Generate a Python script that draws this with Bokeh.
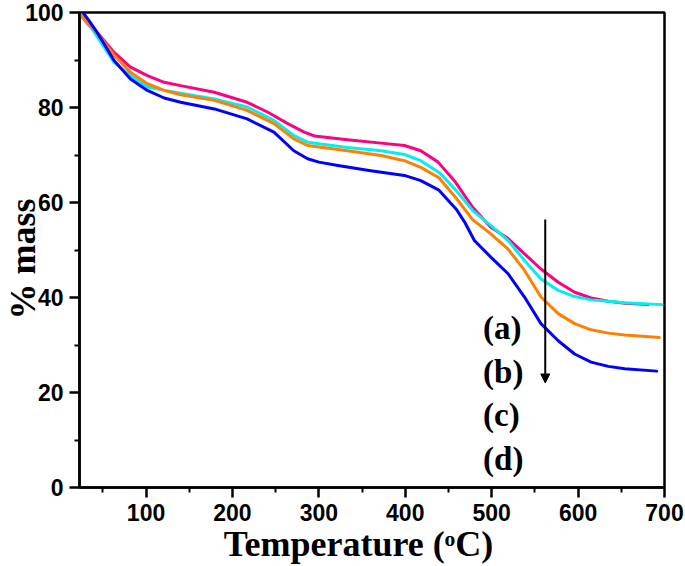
from bokeh.plotting import figure
from bokeh.models import Range1d, Arrow, NormalHead, FixedTicker
from bokeh.embed import file_html
from bokeh.resources import INLINE
from bokeh.core.properties import value

# ---------------- data ----------------
temp_a = [24, 34, 45, 63, 82, 101.5, 121, 140, 179, 217, 241, 264, 283, 295, 333, 372, 399,
          418, 438, 458, 478, 499, 519, 538, 557, 577, 596, 615, 635, 654, 681]
mass_a = [99.5, 97.3, 95.5, 91.6, 88.5, 86.7, 85.3, 84.6, 83.2, 81.1, 79.0, 76.6, 74.8, 74.0,
          73.2, 72.5, 72.0, 70.9, 68.5, 64.3, 59.0, 54.8, 52.4, 49.2, 46.0, 43.2, 41.1, 39.9,
          39.2, 38.8, 38.5]

temp_b = [24, 34, 45, 63, 82, 101.5, 121, 140, 179, 217, 248, 271, 287, 333, 372, 399,
          418, 440, 459, 478, 499, 519, 538, 557, 577, 596, 615, 635, 654, 697]
mass_b = [99.5, 97.5, 94.5, 89.5, 86.7, 84.3, 83.6, 83.0, 81.8, 80.1, 77.3, 74.1, 72.7, 71.6,
          70.9, 70.1, 68.8, 66.2, 62.5, 58.3, 55.2, 52.0, 47.8, 43.9, 41.5, 40.2, 39.5, 39.2,
          38.9, 38.5]

temp_c = [24, 34, 45, 63, 82, 101.5, 121, 140, 179, 217, 248, 271, 287, 333, 372, 399,
          418, 439, 459, 478, 499, 519, 538, 557, 577, 596, 615, 635, 654, 694]
mass_c = [99.5, 97.6, 95.3, 91.0, 87.4, 85.0, 83.6, 82.7, 81.5, 79.4, 76.6, 73.4, 72.0, 70.9,
          69.9, 68.8, 67.4, 65.2, 60.9, 56.4, 53.4, 50.2, 45.7, 40.1, 36.6, 34.5, 33.2, 32.5,
          32.1, 31.6]

temp_d = [27, 34, 42, 63, 82, 101.5, 121, 140, 179, 217, 248, 271, 287, 300, 322, 360, 399,
          418, 439, 459, 469, 480, 499, 519, 538, 557, 577, 596, 615, 635, 654, 691]
mass_d = [100.0, 98.3, 96.2, 89.9, 86.0, 83.6, 82.0, 81.1, 79.7, 77.6, 74.8, 70.9, 69.2, 68.5,
          67.8, 66.7, 65.7, 64.6, 62.6, 58.6, 55.8, 52.0, 48.5, 45.0, 40.1, 34.5, 30.9, 28.1,
          26.4, 25.5, 25.0, 24.5]

series_colors = ["#FF0080", "#00F0F0", "#FF8000", "#0000FF"]
series_labels = ["(a)", "(b)", "(c)", "(d)"]

x_ticks = [100, 200, 300, 400, 500, 600, 700]
y_ticks = [0, 20, 40, 60, 80, 100]
# non-breaking spaces only nudge the centred titles to where the reference has them
x_title = "Temperature (\u1d52C)\u00a0\u00a0\u00a0"
y_title = "% mass\u00a0\u00a0"

# ---------------- figure ----------------
p = figure(width=685, height=566, output_backend="svg", toolbar_location=None,
           x_range=Range1d(23, 700), y_range=Range1d(0, 100),
           min_border_left=79, min_border_right=21, min_border_top=12, min_border_bottom=79)
p.grid.visible = False
p.background_fill_color = "white"
p.border_fill_color = "white"
p.outline_line_color = "black"
p.outline_line_width = 2.5
p.outline_line_alpha = 1.0

p.xaxis.ticker = FixedTicker(ticks=x_ticks, minor_ticks=[t - 50 for t in x_ticks])
p.yaxis.ticker = FixedTicker(ticks=y_ticks, minor_ticks=[t + 10 for t in y_ticks[:-1]])
for ax in (p.xaxis, p.yaxis):
    ax.axis_line_width = 2.5
    ax.axis_line_color = "black"
    ax.major_tick_line_width = 2.5
    ax.minor_tick_line_width = 2
    ax.major_tick_out = 10
    ax.major_tick_in = 0
    ax.minor_tick_out = 5
    ax.minor_tick_in = 0
    ax.major_label_text_font = "Liberation Sans"
    ax.major_label_text_font_style = "bold"
    ax.major_label_text_font_size = "23px"
    ax.major_label_text_color = "black"
    ax.major_label_standoff = 6
    ax.axis_label_text_font = "Liberation Serif"
    ax.axis_label_text_font_style = "bold"
    ax.axis_label_text_font_size = "36px"
    ax.axis_label_text_color = "black"

p.xaxis.axis_label = x_title
p.xaxis.axis_label_standoff = 0
p.yaxis.axis_label = y_title
p.yaxis.axis_label_standoff = -21

# ---------------- curves ----------------
for xs, ys, col in zip([temp_a, temp_b, temp_c, temp_d], [mass_a, mass_b, mass_c, mass_d],
                       series_colors):
    p.line(xs, ys, line_color=col, line_width=3, line_join="round", line_cap="round")

# ---------------- annotations ----------------
label_x = [490] * 4
label_y = [33.5, 24.4, 15.2, 6.0]
p.text(x=label_x, y=label_y, text=series_labels, text_font=value("Liberation Serif"),
       text_font_style="bold", text_font_size="33px", text_baseline="middle",
       text_align="left", text_color="black")

p.add_layout(Arrow(end=NormalHead(size=9, fill_color="black", line_color="black", line_width=1),
                   x_start=562, y_start=56.4, x_end=562, y_end=22.0,
                   line_width=2, line_color="black"))

open("out.html", "w").write(file_html(p, INLINE))
